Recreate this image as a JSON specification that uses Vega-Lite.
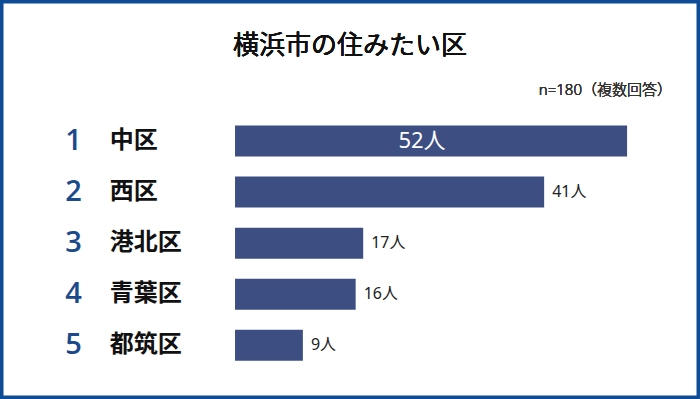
{
  "$schema": "https://vega.github.io/schema/vega-lite/v6.json",
  "width": 700,
  "height": 399,
  "autosize": {"type": "fit", "contains": "padding"},
  "padding": 0,
  "background": "white",
  "config": {
    "view": {"stroke": "#0e4c97", "strokeWidth": 7, "fill": "white"},
    "font": "Noto Sans CJK JP"
  },
  "data": {
    "values": [
      {"rank": 1, "ward": "中区", "count": 52, "label": "52人"},
      {"rank": 2, "ward": "西区", "count": 41, "label": "41人"},
      {"rank": 3, "ward": "港北区", "count": 17, "label": "17人"},
      {"rank": 4, "ward": "青葉区", "count": 16, "label": "16人"},
      {"rank": 5, "ward": "都筑区", "count": 9, "label": "9人"}
    ]
  },
  "encoding": {
    "y": {
      "field": "rank",
      "type": "quantitative",
      "scale": {"domain": [-1.662, 5.952], "reverse": true, "nice": false, "zero": false},
      "axis": null
    }
  },
  "layer": [
    {
      "mark": {"type": "bar", "color": "#3d4f82", "height": 31},
      "encoding": {
        "x": {
          "field": "count",
          "type": "quantitative",
          "scale": {"domain": [-31.17, 61.67], "nice": false, "zero": false},
          "axis": null
        },
        "x2": {"datum": 0}
      }
    },
    {
      "mark": {"type": "text", "align": "left", "baseline": "middle", "dx": 8, "fontSize": 16, "fontWeight": "normal", "color": "#222222", "font": "Noto Sans, Noto Sans CJK JP"},
      "transform": [{"filter": "datum.rank > 1"}],
      "encoding": {
        "x": {"field": "count", "type": "quantitative"},
        "text": {"field": "label"}
      }
    },
    {
      "mark": {"type": "text", "align": "center", "baseline": "middle", "fontSize": 22, "fontWeight": "normal", "color": "white", "font": "Noto Sans, Noto Sans CJK JP"},
      "transform": [{"filter": "datum.rank == 1"}],
      "encoding": {
        "x": {"datum": 24.8},
        "text": {"field": "label"}
      }
    },
    {
      "mark": {"type": "text", "align": "center", "baseline": "middle", "fontSize": 29, "fontWeight": 600, "color": "#1b4a8c", "font": "Open Sans"},
      "encoding": {
        "x": {"datum": -21.4},
        "text": {"field": "rank"}
      }
    },
    {
      "mark": {"type": "text", "align": "left", "baseline": "middle", "fontSize": 24, "fontWeight": "bold", "color": "#111111"},
      "encoding": {
        "x": {"datum": -16.6},
        "text": {"field": "ward"}
      }
    },
    {
      "mark": {"type": "text", "align": "center", "baseline": "middle", "fontSize": 26, "fontWeight": "normal", "color": "#111111"},
      "encoding": {
        "x": {"datum": 15.25},
        "y": {"datum": -0.851},
        "text": {"value": "横浜市の住みたい区"}
      }
    },
    {
      "mark": {"type": "text", "align": "right", "baseline": "middle", "fontSize": 15, "fontWeight": 300, "color": "#333333", "font": "Noto Sans, Noto Sans CJK JP"},
      "encoding": {
        "x": {"datum": 57.95},
        "y": {"datum": 0},
        "text": {"value": "n=180（複数回答）"}
      }
    }
  ]
}
